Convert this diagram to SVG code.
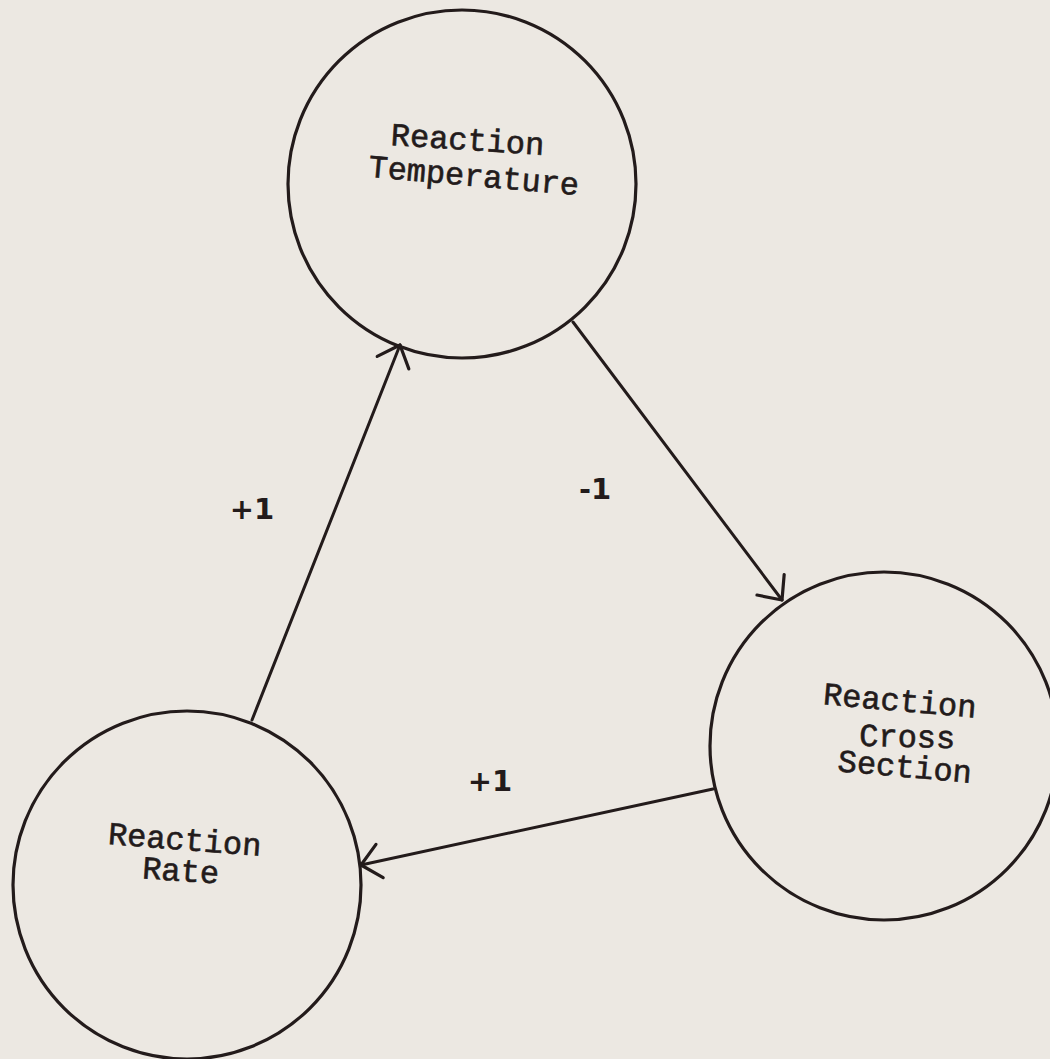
<svg xmlns="http://www.w3.org/2000/svg" width="1050" height="1059" viewBox="0 0 1050 1059">
  <defs>
    <style>
      .node { fill: none; stroke: #231b1b; stroke-width: 3.2; }
      .lbl { font-family: "Liberation Mono", "Courier New", monospace; font-size: 32px; fill: #231b1b; stroke: #231b1b; stroke-width: 0.6; text-anchor: middle; }
      .edge { fill: none; stroke: #231b1b; stroke-width: 3; stroke-linecap: round; }
      .elbl { font-family: "DejaVu Sans", "Liberation Sans", sans-serif; font-size: 29px; font-weight: bold; fill: #231b1b; text-anchor: middle; }
    </style>
    <marker id="arr" markerUnits="userSpaceOnUse" viewBox="-24 -20 28 40" refX="0" refY="0" markerWidth="28" markerHeight="40" orient="auto" overflow="visible">
      <path d="M-19,-17 L0,0 L-19,17" fill="none" stroke="#231b1b" stroke-width="3.2" stroke-linecap="round" stroke-linejoin="round"/>
    </marker>
  </defs>
  <rect width="1050" height="1059" fill="#ece8e2"/>

  <g id="connectors">
    <g id="e-rate-temp">
      <line class="edge" x1="252" y1="720" x2="400" y2="345" marker-end="url(#arr)"/>
      <text class="elbl" x="252" y="519">+1</text>
    </g>
    <g id="e-temp-cross">
      <line class="edge" x1="573" y1="322" x2="782" y2="600" marker-end="url(#arr)"/>
      <text class="elbl" x="595" y="499">-1</text>
    </g>
    <g id="e-cross-rate">
      <line class="edge" x1="713" y1="789" x2="361" y2="865" marker-end="url(#arr)"/>
      <text class="elbl" x="490" y="791">+1</text>
    </g>
  </g>

  <g id="node-temperature">
    <circle class="node" cx="462" cy="184" r="174"/>
    <text class="lbl" transform="translate(467,150) rotate(3.7)">Reaction</text>
    <text class="lbl" transform="translate(473,186) rotate(5)">Temperature</text>
  </g>

  <g id="node-cross-section">
    <circle class="node" cx="884" cy="746" r="174"/>
    <text class="lbl" transform="translate(899,711) rotate(5)">Reaction</text>
    <text class="lbl" transform="translate(907,747) rotate(1.5)">Cross</text>
    <text class="lbl" transform="translate(904,777) rotate(5)">Section</text>
  </g>

  <g id="node-rate">
    <circle class="node" cx="187" cy="885" r="174"/>
    <text class="lbl" transform="translate(184,850) rotate(4.4)">Reaction</text>
    <text class="lbl" transform="translate(180,881) rotate(4)">Rate</text>
  </g>
</svg>
